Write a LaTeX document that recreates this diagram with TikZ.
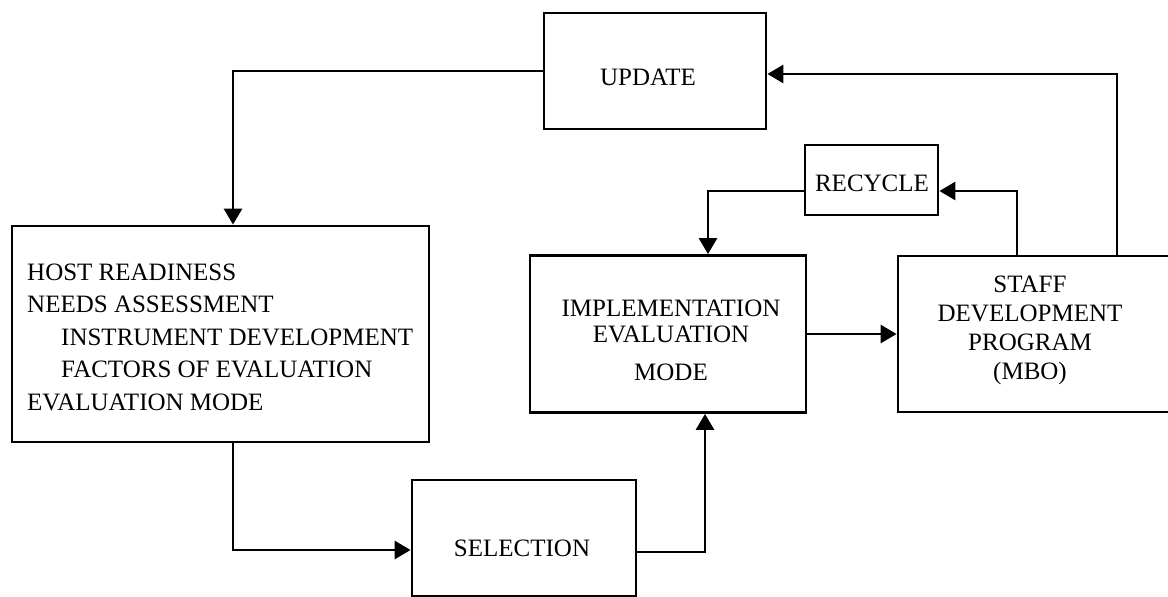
\documentclass[tikz,border=0pt]{standalone}
\usepackage{fontspec}
\setmainfont{Liberation Serif}
\usetikzlibrary{arrows.meta,calc}
\tikzset{
  box/.style={draw=black, line width=2.8pt, rectangle, inner sep=0pt},
  lbl/.style={inner sep=0pt, font=\fontsize{25}{29}\selectfont},
  conn/.style={draw=black, line width=2.8pt},
  arr/.style={conn, -{Triangle[length=16pt,width=18pt]}}
}
\begin{document}
\begin{tikzpicture}[x=1pt,y=-1pt]
\fill[white] (0,0) rectangle (1168,597);
\useasboundingbox (0,0) rectangle (1168,597);
\clip (0,0) rectangle (1168,597);
% boxes
\node[box, minimum width=222pt, minimum height=116pt] (update) at (655,71) {};
\node[box, minimum width=133pt, minimum height=70pt] (recycle) at (871.5,180) {};
\node[box, minimum width=417pt, minimum height=216pt] (host) at (220.5,334) {};
\node[box, minimum width=276pt, minimum height=157pt] (impl) at (668,334) {};
\node[box, minimum width=282pt, minimum height=156pt] (staff) at (1039,334) {};
\node[box, minimum width=224pt, minimum height=116pt] (selection) at (524,538) {};
% texts
\node[lbl] (updatet) at (648,77) {UPDATE};
\node[lbl] (recyclet) at (872,183) {RECYCLE};
\node[lbl, anchor=west, align=left, font=\fontsize{25}{32.5}\selectfont] (hostt) at (27,337)
  {HOST READINESS\\NEEDS ASSESSMENT\\\hspace*{34pt}INSTRUMENT DEVELOPMENT\\\hspace*{34pt}FACTORS OF EVALUATION\\EVALUATION MODE};
\node[lbl, align=center, font=\fontsize{25}{26.5}\selectfont] (implt) at (671,340)
  {IMPLEMENTATION\\EVALUATION\\[11pt]MODE};
\node[lbl, align=center] (stafft) at (1030,330)
  {STAFF\\DEVELOPMENT\\PROGRAM\\(MBO)};
\node[lbl] (selectiont) at (522,548) {SELECTION};
% connectors
\draw[arr] (update.west) -| ([xshift=12.5pt]host.north);
\draw[arr] ([xshift=78pt]staff.north) |- ([yshift=-3pt]update.east);
\draw[arr] ([xshift=-22pt]staff.north) |- ([yshift=-11pt]recycle.east);
\draw[arr] ([yshift=-11pt]recycle.west) -| ([xshift=40pt]impl.north);
\draw[arr] (impl.east) -- (staff.west);
\draw[arr] ([xshift=12.5pt]host.south) |- ([yshift=-12pt]selection.west);
\draw[arr] ([yshift=-14pt]selection.east) -| ([xshift=37pt]impl.south);
\end{tikzpicture}
\end{document}
